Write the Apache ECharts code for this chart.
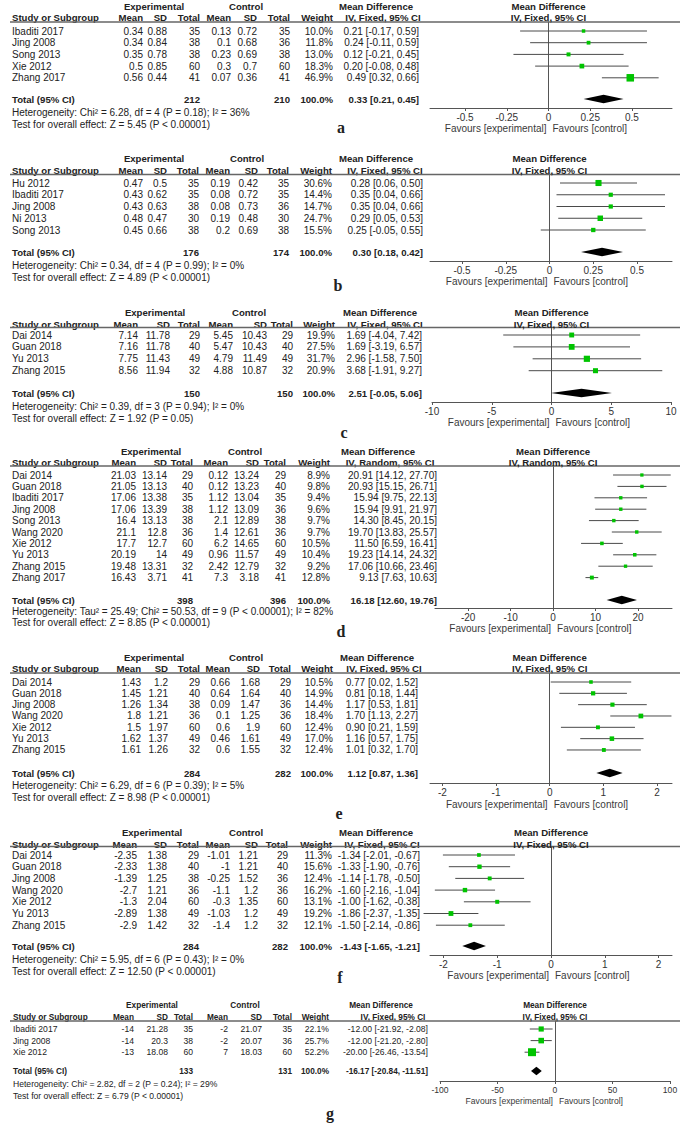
<!DOCTYPE html>
<html>
<head>
<meta charset="utf-8">
<title>Forest plots</title>
<script src="https://cdn.jsdelivr.net/npm/echarts@6.0.0/dist/echarts.min.js"></script>
<style>
html,body{margin:0;padding:0;background:#ffffff;}
#chart{width:685px;height:1125px;}
</style>
</head>
<body>
<div id="chart"></div>
<script>
// ================= DATA =================
// ---- Panel a ----
const aStudy   = ['Ibaditi 2017','Jing 2008','Song 2013','Xie 2012','Zhang 2017'];
const aExpMean = [0.34,0.34,0.35,0.5,0.56];
const aExpSD   = [0.88,0.84,0.78,0.85,0.44];
const aExpN    = [35,38,38,60,41];
const aCtlMean = [0.13,0.1,0.23,0.3,0.07];
const aCtlSD   = [0.72,0.68,0.69,0.7,0.36];
const aCtlN    = [35,36,38,60,41];
const aWeight  = [10.0,11.8,13.0,18.3,46.9];
const aMD      = [0.21,0.24,0.12,0.20,0.49];
const aLo      = [-0.17,-0.11,-0.21,-0.08,0.32];
const aHi      = [0.59,0.59,0.45,0.48,0.66];
const aTotal   = [212,210,0.33,0.21,0.45];
const aTicks   = [-0.5,-0.25,0,0.25,0.5];
const aHet  = 'Heterogeneity: Chi² = 6.28, df = 4 (P = 0.18); I² = 36%';
const aTest = 'Test for overall effect: Z = 5.45 (P < 0.00001)';
// ---- Panel b ----
const bStudy   = ['Hu 2012','Ibaditi 2017','Jing 2008','Ni 2013','Song 2013'];
const bExpMean = [0.47,0.43,0.43,0.48,0.45];
const bExpSD   = [0.5,0.62,0.63,0.47,0.66];
const bExpN    = [35,35,38,30,38];
const bCtlMean = [0.19,0.08,0.08,0.19,0.2];
const bCtlSD   = [0.42,0.72,0.73,0.48,0.69];
const bCtlN    = [35,35,36,30,38];
const bWeight  = [30.6,14.4,14.7,24.7,15.5];
const bMD      = [0.28,0.35,0.35,0.29,0.25];
const bLo      = [0.06,0.04,0.04,0.05,-0.05];
const bHi      = [0.50,0.66,0.66,0.53,0.55];
const bTotal   = [176,174,0.30,0.18,0.42];
const bTicks   = [-0.5,-0.25,0,0.25,0.5];
const bHet  = 'Heterogeneity: Chi² = 0.34, df = 4 (P = 0.99); I² = 0%';
const bTest = 'Test for overall effect: Z = 4.89 (P < 0.00001)';
// ---- Panel c ----
const cStudy   = ['Dai 2014','Guan 2018','Yu 2013','Zhang 2015'];
const cExpMean = [7.14,7.16,7.75,8.56];
const cExpSD   = [11.78,11.78,11.43,11.94];
const cExpN    = [29,40,49,32];
const cCtlMean = [5.45,5.47,4.79,4.88];
const cCtlSD   = [10.43,10.43,11.49,10.87];
const cCtlN    = [29,40,49,32];
const cWeight  = [19.9,27.5,31.7,20.9];
const cMD      = [1.69,1.69,2.96,3.68];
const cLo      = [-4.04,-3.19,-1.58,-1.91];
const cHi      = [7.42,6.57,7.50,9.27];
const cTotal   = [150,150,2.51,-0.05,5.06];
const cTicks   = [-10,-5,0,5,10];
const cHet  = 'Heterogeneity: Chi² = 0.39, df = 3 (P = 0.94); I² = 0%';
const cTest = 'Test for overall effect: Z = 1.92 (P = 0.05)';
// ---- Panel d ----
const dStudy   = ['Dai 2014','Guan 2018','Ibaditi 2017','Jing 2008','Song 2013','Wang 2020','Xie 2012','Yu 2013','Zhang 2015','Zhang 2017'];
const dExpMean = [21.03,21.05,17.06,17.06,16.4,21.1,17.7,20.19,19.48,16.43];
const dExpSD   = [13.14,13.13,13.38,13.39,13.13,12.8,12.7,14,13.31,3.71];
const dExpN    = [29,40,35,38,38,36,60,49,32,41];
const dCtlMean = [0.12,0.12,1.12,1.12,2.1,1.4,6.2,0.96,2.42,7.3];
const dCtlSD   = [13.24,13.23,13.04,13.09,12.89,12.61,14.65,11.57,12.79,3.18];
const dCtlN    = [29,40,35,36,38,36,60,49,32,41];
const dWeight  = [8.9,9.8,9.4,9.6,9.7,9.7,10.5,10.4,9.2,12.8];
const dMD      = [20.91,20.93,15.94,15.94,14.30,19.70,11.50,19.23,17.06,9.13];
const dLo      = [14.12,15.15,9.75,9.91,8.45,13.83,6.59,14.14,10.66,7.63];
const dHi      = [27.70,26.71,22.13,21.97,20.15,25.57,16.41,24.32,23.46,10.63];
const dTotal   = [398,396,16.18,12.60,19.76];
const dTicks   = [-20,-10,0,10,20];
const dHet  = 'Heterogeneity: Tau² = 25.49; Chi² = 50.53, df = 9 (P < 0.00001); I² = 82%';
const dTest = 'Test for overall effect: Z = 8.85 (P < 0.00001)';
// ---- Panel e ----
const eStudy   = ['Dai 2014','Guan 2018','Jing 2008','Wang 2020','Xie 2012','Yu 2013','Zhang 2015'];
const eExpMean = [1.43,1.45,1.26,1.8,1.5,1.62,1.61];
const eExpSD   = [1.2,1.21,1.34,1.21,1.97,1.37,1.26];
const eExpN    = [29,40,38,36,60,49,32];
const eCtlMean = [0.66,0.64,0.09,0.1,0.6,0.46,0.6];
const eCtlSD   = [1.68,1.64,1.47,1.25,1.9,1.61,1.55];
const eCtlN    = [29,40,36,36,60,49,32];
const eWeight  = [10.5,14.9,14.4,18.4,12.4,17.0,12.4];
const eMD      = [0.77,0.81,1.17,1.70,0.90,1.16,1.01];
const eLo      = [0.02,0.18,0.53,1.13,0.21,0.57,0.32];
const eHi      = [1.52,1.44,1.81,2.27,1.59,1.75,1.70];
const eTotal   = [284,282,1.12,0.87,1.36];
const eTicks   = [-2,-1,0,1,2];
const eHet  = 'Heterogeneity: Chi² = 6.29, df = 6 (P = 0.39); I² = 5%';
const eTest = 'Test for overall effect: Z = 8.98 (P < 0.00001)';
// ---- Panel f ----
const fStudy   = ['Dai 2014','Guan 2018','Jing 2008','Wang 2020','Xie 2012','Yu 2013','Zhang 2015'];
const fExpMean = [-2.35,-2.33,-1.39,-2.7,-1.3,-2.89,-2.9];
const fExpSD   = [1.38,1.38,1.25,1.21,2.04,1.38,1.42];
const fExpN    = [29,40,38,36,60,49,32];
const fCtlMean = [-1.01,-1,-0.25,-1.1,-0.3,-1.03,-1.4];
const fCtlSD   = [1.21,1.21,1.52,1.2,1.35,1.2,1.2];
const fCtlN    = [29,40,36,36,60,49,32];
const fWeight  = [11.3,15.6,12.4,16.2,13.1,19.2,12.1];
const fMD      = [-1.34,-1.33,-1.14,-1.60,-1.00,-1.86,-1.50];
const fLo      = [-2.01,-1.90,-1.78,-2.16,-1.62,-2.37,-2.14];
const fHi      = [-0.67,-0.76,-0.50,-1.04,-0.38,-1.35,-0.86];
const fTotal   = [284,282,-1.43,-1.65,-1.21];
const fTicks   = [-2,-1,0,1,2];
const fHet  = 'Heterogeneity: Chi² = 5.95, df = 6 (P = 0.43); I² = 0%';
const fTest = 'Test for overall effect: Z = 12.50 (P < 0.00001)';
// ---- Panel g ----
const gStudy   = ['Ibaditi 2017','Jing 2008','Xie 2012'];
const gExpMean = [-14,-14,-13];
const gExpSD   = [21.28,20.3,18.08];
const gExpN    = [35,38,60];
const gCtlMean = [-2,-2,7];
const gCtlSD   = [21.07,20.07,18.03];
const gCtlN    = [35,36,60];
const gWeight  = [22.1,25.7,52.2];
const gMD      = [-12.00,-12.00,-20.00];
const gLo      = [-21.92,-21.20,-26.46];
const gHi      = [-2.08,-2.80,-13.54];
const gTotal   = [133,131,-16.17,-20.84,-11.51];
const gTicks   = [-100,-50,0,50,100];
const gHet  = 'Heterogeneity: Chi² = 2.82, df = 2 (P = 0.24); I² = 29%';
const gTest = 'Test for overall effect: Z = 6.79 (P < 0.00001)';

const FIXED = 'IV, Fixed, 95% CI';
const RANDOM = 'IV, Random, 95% CI';

const PANELS = [
  {id:'a', study:aStudy, em:aExpMean, es:aExpSD, en:aExpN, cm:aCtlMean, cs:aCtlSD, cn:aCtlN, w:aWeight, md:aMD, lo:aLo, hi:aHi, tot:aTotal, ticks:aTicks, het:aHet, test:aTest, method:FIXED},
  {id:'b', study:bStudy, em:bExpMean, es:bExpSD, en:bExpN, cm:bCtlMean, cs:bCtlSD, cn:bCtlN, w:bWeight, md:bMD, lo:bLo, hi:bHi, tot:bTotal, ticks:bTicks, het:bHet, test:bTest, method:FIXED},
  {id:'c', study:cStudy, em:cExpMean, es:cExpSD, en:cExpN, cm:cCtlMean, cs:cCtlSD, cn:cCtlN, w:cWeight, md:cMD, lo:cLo, hi:cHi, tot:cTotal, ticks:cTicks, het:cHet, test:cTest, method:FIXED},
  {id:'d', study:dStudy, em:dExpMean, es:dExpSD, en:dExpN, cm:dCtlMean, cs:dCtlSD, cn:dCtlN, w:dWeight, md:dMD, lo:dLo, hi:dHi, tot:dTotal, ticks:dTicks, het:dHet, test:dTest, method:RANDOM},
  {id:'e', study:eStudy, em:eExpMean, es:eExpSD, en:eExpN, cm:eCtlMean, cs:eCtlSD, cn:eCtlN, w:eWeight, md:eMD, lo:eLo, hi:eHi, tot:eTotal, ticks:eTicks, het:eHet, test:eTest, method:FIXED},
  {id:'f', study:fStudy, em:fExpMean, es:fExpSD, en:fExpN, cm:fCtlMean, cs:fCtlSD, cn:fCtlN, w:fWeight, md:fMD, lo:fLo, hi:fHi, tot:fTotal, ticks:fTicks, het:fHet, test:fTest, method:FIXED},
  {id:'g', study:gStudy, em:gExpMean, es:gExpSD, en:gExpN, cm:gCtlMean, cs:gCtlSD, cn:gCtlN, w:gWeight, md:gMD, lo:gLo, hi:gHi, tot:gTotal, ticks:gTicks, het:gHet, test:gTest, method:FIXED}
];

// ================= LAYOUT (pixel geometry only) =================
const LAYOUT = {
  a:{y0:31, rh:11.7, hdr:[6,17,22], total:99, het:112, test:124, axis:108, fav:128, letter:[341,127], fs:1,
     cols:[12,143,167,200,231,257,290,333,419], expC:154, ctlC:246, mdC:376, ivC:383,
     axisPx:[430,672], range:[-0.71,0.74], rule:[10,680]},
  b:{y0:183, rh:11.75, hdr:[158,170,174.5], total:252, het:265, test:277, axis:261, fav:281, letter:[338,285], fs:1,
     cols:[12,143,167,199,230,258,289,332,423], expC:154, ctlC:247, mdC:376, ivC:385,
     axisPx:[430,672], range:[-0.683,0.70], rule:[10,680]},
  c:{y0:335, rh:11.9, hdr:[312,324,327.5], total:393, het:406, test:418, axis:402, fav:422, letter:[344,432], fs:1,
     cols:[12,138,170,200,233,267,293,335,422], expC:155, ctlC:249, mdC:380, ivC:385,
     axisPx:[432,671], range:[-10,10], rule:[10,680]},
  d:{y0:475, rh:11.4, hdr:[451,462,466], total:600, het:611, test:622, axis:608, fav:628, letter:[341,631], fs:1,
     cols:[12,136,167,193,228,259,286,330,437], expC:151, ctlC:245, mdC:378, ivC:390,
     axisPx:[435,672], range:[-27.8,28], rule:[10,680]},
  e:{y0:682, rh:11.33, hdr:[657,668,673], total:773, het:785, test:797, axis:783, fav:804, letter:[339,813], fs:1,
     cols:[12,141,168,200,230,260,291,333,418], expC:154, ctlC:246, mdC:377, ivC:384,
     axisPx:[430,672], range:[-2.23,2.28], rule:[10,680]},
  f:{y0:855, rh:11.7, hdr:[832,844,846.5], total:946, het:959, test:971, axis:955, fav:975, letter:[340,977], fs:1,
     cols:[12,137,167,199,230,258,288,332,420], expC:152, ctlC:246, mdC:376, ivC:382,
     axisPx:[430,672], range:[-2.25,2.25], rule:[10,680]},
  g:{y0:1029, rh:11.6, hdr:[1005,1017,1021], total:1071, het:1084, test:1096, axis:1081, fav:1101, letter:[330,1113], fs:0.86,
     cols:[13,134,168,193,228,262,292,329,428], expC:152, ctlC:245, mdC:381, ivC:393,
     axisPx:[440,670], range:[-100,100], rule:[10,680]}
};

const FONT = '"Liberation Sans", Arial, Helvetica, sans-serif';
const SERIF = '"Liberation Serif", "Times New Roman", serif';
const TXT = '#222';
const GREEN = '#00c400';

function f2(v){ return v.toFixed(2); }
function ciStr(m,l,h){ return f2(m) + ' [' + f2(l) + ', ' + f2(h) + ']'; }

const grids = [], xAxes = [], yAxes = [], series = [];

PANELS.forEach(function(P){
  const L = LAYOUT[P.id];
  const n = P.study.length;
  const rowOf = function(py){ return (py - L.y0) / L.rh; };
  const REG = 10 * L.fs, BOLD = 9.6 * L.fs;

  // ---------- table grid (x in layout units 0..685, y in row units) ----------
  const tMin = -3, tMax = n + 5;
  const tIdx = grids.length;
  grids.push({left:0, width:685, top:L.y0 + tMin*L.rh, height:(tMax - tMin)*L.rh, containLabel:false, outerBoundsMode:'none'});
  xAxes.push({gridIndex:tIdx, type:'value', min:0, max:685, show:false});
  yAxes.push({gridIndex:tIdx, type:'value', min:tMin, max:tMax, inverse:true, show:false});

  const C = L.cols;
  const items = [];
  const add = function(t,x,r,a,b,extra){ items.push(Object.assign({t:t,x:x,r:r,a:a||'left',b:!!b}, extra||{})); };
  const rG = rowOf(L.hdr[0]), rH = rowOf(L.hdr[1]), rR = rowOf(L.hdr[2]);
  add('Experimental', L.expC, rG, 'center', 1);
  add('Control', L.ctlC, rG, 'center', 1);
  add('Mean Difference', L.mdC, rG, 'center', 1);
  add('Study or Subgroup', C[0], rH, 'left', 1);
  add('Mean', C[1], rH, 'right', 1);
  add('SD', C[2], rH, 'right', 1);
  add('Total', C[3], rH, 'right', 1);
  add('Mean', C[4], rH, 'right', 1);
  add('SD', C[5], rH, 'right', 1);
  add('Total', C[6], rH, 'right', 1);
  add('Weight', C[7], rH, 'right', 1);
  add(P.method, L.ivC, rH, 'center', 1);
  items.push({line:true, x:L.rule[0], x2:L.rule[1], r:rR});
  for (let i = 0; i < n; i++) {
    add(P.study[i], C[0], i);
    add(String(P.em[i]), C[1], i, 'right');
    add(String(P.es[i]), C[2], i, 'right');
    add(String(P.en[i]), C[3], i, 'right');
    add(String(P.cm[i]), C[4], i, 'right');
    add(String(P.cs[i]), C[5], i, 'right');
    add(String(P.cn[i]), C[6], i, 'right');
    add(P.w[i].toFixed(1) + '%', C[7], i, 'right');
    add(ciStr(P.md[i], P.lo[i], P.hi[i]), C[8], i, 'right');
  }
  const rT = rowOf(L.total);
  add('Total (95% CI)', C[0], rT, 'left', 1);
  add(String(P.tot[0]), C[3], rT, 'right', 1);
  add(String(P.tot[1]), C[6], rT, 'right', 1);
  add('100.0%', C[7], rT, 'right', 1);
  add(ciStr(P.tot[2], P.tot[3], P.tot[4]), C[8], rT, 'right', 1);
  add(P.het, C[0], rowOf(L.het));
  add(P.test, C[0], rowOf(L.test));
  add(P.id, L.letter[0], rowOf(L.letter[1]), 'center', 1, {serif:true});

  series.push({
    type:'custom', xAxisIndex:tIdx, yAxisIndex:tIdx, silent:true, clip:false,
    data: items.map(function(it){ return [it.x, it.r]; }),
    renderItem: function(params, api){
      const it = items[params.dataIndex];
      const p = api.coord([it.x, it.r]);
      if (it.line) {
        const p2 = api.coord([it.x2, it.r]);
        return {type:'line', shape:{x1:p[0], y1:p[1], x2:p2[0], y2:p2[1]}, style:{stroke:'#666', lineWidth:1.3}};
      }
      return {type:'text', x:p[0], y:p[1], style:{
        text:it.t, fill:TXT,
        fontSize: it.serif ? 16 : (it.b ? BOLD : REG),
        fontFamily: it.serif ? SERIF : FONT,
        fontWeight: it.b ? 'bold' : 'normal',
        align: it.a, verticalAlign:'middle'
      }};
    }
  });

  // ---------- forest grid ----------
  const fIdx = grids.length;
  const rTop = rR, rAxis = rowOf(L.axis);
  grids.push({left:L.axisPx[0], width:L.axisPx[1]-L.axisPx[0], top:L.hdr[2], height:L.axis - L.hdr[2], containLabel:false, outerBoundsMode:'none'});
  xAxes.push({
    gridIndex:fIdx, type:'value', min:L.range[0], max:L.range[1],
    axisLine:{show:true, onZero:false, lineStyle:{color:'#555', width:1}},
    axisTick:{show:true, customValues:P.ticks, length:3, inside:false, lineStyle:{color:'#555', width:1}},
    axisLabel:{show:true, customValues:P.ticks, fontSize:REG, color:'#333', margin:4, fontFamily:FONT},
    splitLine:{show:false}
  });
  yAxes.push({
    gridIndex:fIdx, type:'value', min:rTop, max:rAxis, inverse:true,
    axisLine:{show:true, onZero:true, lineStyle:{color:'#555', width:1}},
    axisTick:{show:false}, axisLabel:{show:false}, splitLine:{show:false}
  });

  // study CIs and weight boxes
  series.push({
    type:'custom', xAxisIndex:fIdx, yAxisIndex:fIdx, silent:true, clip:false,
    data: P.md.map(function(m,i){ return [m, i, P.lo[i], P.hi[i], P.w[i]]; }),
    renderItem: function(params, api){
      const m = api.value(0), r = api.value(1), l = api.value(2), h = api.value(3), w = api.value(4);
      const c = api.coord([m, r]), cl = api.coord([l, r]), ch = api.coord([h, r]);
      const s = Math.max(3, 1.1 * Math.sqrt(w));
      return {type:'group', children:[
        {type:'line', shape:{x1:cl[0], y1:c[1], x2:ch[0], y2:c[1]}, style:{stroke:'#4a4a4a', lineWidth:1}},
        {type:'rect', shape:{x:c[0]-s/2, y:c[1]-s/2, width:s, height:s}, style:{fill:GREEN}}
      ]};
    }
  });
  // pooled diamond
  series.push({
    type:'custom', xAxisIndex:fIdx, yAxisIndex:fIdx, silent:true, clip:false,
    data: [[P.tot[2], rT, P.tot[3], P.tot[4]]],
    renderItem: function(params, api){
      const m = api.value(0), r = api.value(1), l = api.value(2), h = api.value(3);
      const c = api.coord([m, r]), cl = api.coord([l, r]), ch = api.coord([h, r]);
      const hh = 4.2;
      return {type:'polygon', shape:{points:[[cl[0], c[1]], [c[0], c[1]-hh], [ch[0], c[1]], [c[0], c[1]+hh]]}, style:{fill:'#000'}};
    }
  });
  // plot headers and favours labels, anchored at the line of no effect
  const fItems = [
    {t:'Mean Difference', r:rG, a:'center', b:1, dx:0},
    {t:P.method, r:rH, a:'center', b:1, dx:0},
    {t:'Favours [experimental]', r:rowOf(L.fav), a:'right', b:0, dx:-2},
    {t:'Favours [control]', r:rowOf(L.fav), a:'left', b:0, dx:4}
  ];
  series.push({
    type:'custom', xAxisIndex:fIdx, yAxisIndex:fIdx, silent:true, clip:false,
    data: fItems.map(function(it){ return [0, it.r]; }),
    renderItem: function(params, api){
      const it = fItems[params.dataIndex];
      const p = api.coord([api.value(0), api.value(1)]);
      return {type:'text', x:p[0] + it.dx, y:p[1], style:{
        text:it.t, fill: it.b ? TXT : '#3a3a3a', fontSize: it.b ? BOLD : REG, fontFamily:FONT,
        fontWeight: it.b ? 'bold' : 'normal', align:it.a, verticalAlign:'middle'
      }};
    }
  });
});

const chart = echarts.init(document.getElementById('chart'), null, {renderer:'svg', width:685, height:1125});
chart.setOption({
  backgroundColor:'#ffffff',
  animation:false,
  textStyle:{fontFamily:FONT},
  grid:grids, xAxis:xAxes, yAxis:yAxes, series:series
});
</script>
</body>
</html>
